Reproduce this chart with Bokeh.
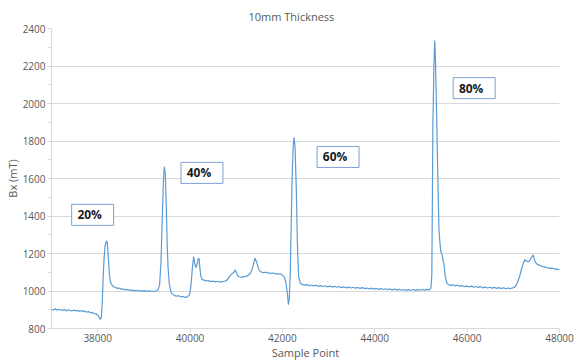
from bokeh.plotting import figure
from bokeh.models import ColumnDataSource, FixedTicker, Range1d
from bokeh.core.properties import value
from bokeh.embed import file_html
from bokeh.resources import INLINE

# ---- data ----
sample_x = [
    37000, 37040, 37080, 37120, 37160, 37200, 37240, 37280, 37320, 37360,
    37400, 37440, 37480, 37520, 37560, 37600, 37640, 37680, 37720, 37760,
    37800, 37840, 37880, 37920, 37960, 38000, 38030, 38060, 38080, 38100,
    38120, 38140, 38160, 38180, 38195, 38210, 38230, 38250, 38270, 38300,
    38340, 38380, 38420, 38460, 38500, 38540, 38580, 38620, 38660, 38700,
    38740, 38780, 38820, 38860, 38900, 38940, 38980, 39020, 39060, 39100,
    39140, 39180, 39220, 39260, 39300, 39340, 39370, 39400, 39425, 39445,
    39465, 39485, 39505, 39525, 39550, 39580, 39610, 39650, 39700, 39750,
    39800, 39850, 39900, 39950, 39990, 40020, 40050, 40077, 40100, 40125,
    40150, 40175, 40193, 40210, 40230, 40260, 40300, 40350, 40400, 40450,
    40500, 40550, 40600, 40650, 40700, 40750, 40800, 40850, 40900, 40950,
    40978, 41000, 41030, 41070, 41120, 41170, 41220, 41270, 41320, 41360,
    41390, 41411, 41440, 41480, 41520, 41580, 41650, 41720, 41800, 41880,
    41950, 42000, 42040, 42080, 42110, 42130, 42150, 42170, 42190, 42210,
    42235, 42254, 42275, 42300, 42325, 42350, 42384, 42430, 42480, 42530,
    42580, 42630, 42680, 42730, 42780, 42830, 42880, 42930, 42980, 43030,
    43080, 43130, 43180, 43230, 43280, 43330, 43380, 43430, 43480, 43530,
    43580, 43630, 43680, 43730, 43780, 43830, 43880, 43930, 43980, 44030,
    44080, 44130, 44180, 44230, 44280, 44330, 44380, 44430, 44480, 44530,
    44580, 44630, 44680, 44730, 44780, 44830, 44880, 44930, 44980, 45030,
    45080, 45130, 45180, 45215, 45235, 45248, 45258, 45266, 45280, 45300,
    45312, 45330, 45350, 45370, 45390, 45410, 45430, 45450, 45475, 45500,
    45525, 45555, 45590, 45640, 45690, 45740, 45790, 45840, 45890, 45940,
    45990, 46040, 46090, 46140, 46190, 46240, 46290, 46340, 46390, 46440,
    46490, 46540, 46590, 46640, 46690, 46740, 46790, 46840, 46890, 46940,
    46990, 47040, 47080, 47110, 47140, 47180, 47220, 47250, 47275, 47300,
    47341, 47380, 47410, 47428, 47450, 47480, 47520, 47560, 47600, 47640,
    47690, 47740, 47790, 47840, 47890, 47935, 47970, 48000,
]
bx_mT = [
    902, 898, 905, 897, 903, 899, 896, 902, 894, 900,
    897, 893, 899, 894, 897, 891, 896, 890, 894, 887,
    891, 884, 886, 880, 878, 872, 862, 848, 860, 940,
    1080, 1180, 1240, 1262, 1268, 1250, 1180, 1100, 1055, 1035,
    1022, 1020, 1014, 1016, 1010, 1012, 1006, 1009, 1004, 1007,
    1002, 1005, 1000, 1004, 999, 1003, 998, 1002, 997, 1001,
    998, 1000, 996, 1000, 1004, 1030, 1150, 1400, 1600, 1662,
    1620, 1450, 1250, 1120, 1040, 1000, 985, 978, 972, 975,
    968, 971, 966, 970, 980, 1030, 1120, 1183, 1150, 1125,
    1140, 1170, 1176, 1130, 1085, 1062, 1058, 1054, 1056, 1050,
    1053, 1049, 1052, 1047, 1050, 1052, 1058, 1075, 1090, 1100,
    1113, 1100, 1082, 1076, 1073, 1077, 1078, 1085, 1100, 1130,
    1160, 1175, 1155, 1120, 1104, 1098, 1100, 1094, 1096, 1090,
    1092, 1085, 1075, 1040, 980, 927, 960, 1100, 1350, 1600,
    1780, 1819, 1760, 1550, 1250, 1080, 1043, 1035, 1031, 1034,
    1028, 1032, 1027, 1031, 1025, 1029, 1024, 1028, 1022, 1026,
    1021, 1025, 1020, 1024, 1018, 1022, 1017, 1021, 1016, 1020,
    1015, 1019, 1014, 1018, 1013, 1016, 1011, 1015, 1010, 1014,
    1009, 1013, 1008, 1012, 1007, 1011, 1006, 1010, 1005, 1009,
    1004, 1008, 1003, 1007, 1004, 1008, 1003, 1007, 1004, 1008,
    1005, 1009, 1006, 1015, 1080, 1500, 1900, 1980, 2200, 2336,
    2250, 2050, 1800, 1550, 1330, 1260, 1210, 1200, 1170, 1140,
    1080, 1045, 1035, 1030, 1033, 1027, 1031, 1025, 1029, 1023,
    1027, 1022, 1026, 1020, 1024, 1019, 1023, 1017, 1021, 1016,
    1020, 1015, 1019, 1014, 1018, 1013, 1017, 1012, 1016, 1013,
    1017, 1022, 1040, 1060, 1080, 1120, 1150, 1166, 1162, 1158,
    1157, 1175, 1185, 1193, 1172, 1152, 1142, 1138, 1133, 1130,
    1127, 1124, 1121, 1122, 1117, 1118, 1114, 1116,
]

label_text = ["20%", "40%", "60%", "80%"]
label_x = [37891, 40258, 43205, 46152]
label_y = [1406, 1630, 1715, 2082]

x_ticks = [38000, 40000, 42000, 44000, 46000, 48000]
y_ticks = [800, 1000, 1200, 1400, 1600, 1800, 2000, 2200, 2400]
y_minor_ticks = [900, 1100, 1300, 1500, 1700, 1900, 2100, 2300]

FONT = "Open Sans"
GRAY = "#595959"
LIGHT = "#d9d9d9"

p = figure(width=575, height=362, output_backend="svg", toolbar_location=None,
           x_range=Range1d(37000, 48000), y_range=Range1d(800, 2400),
           title="10mm Thickness",
           min_border_left=51, min_border_right=16, min_border_top=28,
           min_border_bottom=33)

p.title.text_font = FONT
p.title.text_font_size = "11px"
p.title.text_font_style = "normal"
p.title.text_color = GRAY
p.title.align = "left"
p.title.offset = 197
p.title.standoff = 10

p.outline_line_color = None
p.background_fill_color = "white"
p.border_fill_color = "white"

p.xgrid.grid_line_color = None
p.ygrid.grid_line_color = LIGHT
p.ygrid.grid_line_width = 1

p.xaxis.ticker = FixedTicker(ticks=x_ticks)
p.yaxis.ticker = FixedTicker(ticks=y_ticks, minor_ticks=y_minor_ticks)

for ax in (p.xaxis[0], p.yaxis[0]):
    ax.axis_line_color = LIGHT
    ax.major_tick_line_color = LIGHT
    ax.minor_tick_line_color = LIGHT
    ax.major_tick_in = 0
    ax.minor_tick_in = 0
    ax.major_tick_out = 4
    ax.major_label_text_font = FONT
    ax.major_label_text_font_size = "10px"
    ax.major_label_text_color = GRAY
    ax.axis_label_text_font = FONT
    ax.axis_label_text_font_size = "11px"
    ax.axis_label_text_font_style = "normal"
    ax.axis_label_text_color = GRAY

p.xaxis.minor_tick_out = 0
p.yaxis.minor_tick_out = 4
p.xaxis.major_label_standoff = 1
p.yaxis.major_label_standoff = 2
p.xaxis.axis_label = "Sample Point"
p.xaxis.axis_label_standoff = 0
p.yaxis.axis_label = "Bx (mT)"
p.yaxis.axis_label_standoff = 0

src = ColumnDataSource(data=dict(x=sample_x, y=bx_mT))
p.line("x", "y", source=src, line_color="#5b9bd5", line_width=1.2)

lab = ColumnDataSource(data=dict(x=label_x, y=label_y, t=label_text))
p.rect("x", "y", width=42, height=21, width_units="screen", height_units="screen",
       source=lab, fill_color="white", line_color="#7f9fd6", line_width=1)
p.text("x", "y", text="t", source=lab, text_align="center", text_baseline="middle",
       text_font=value(FONT), text_font_size="12px", text_font_style="bold",
       text_color="#1a1a1a", x_offset=-3)

open("out.html", "w").write(file_html(p, INLINE))
